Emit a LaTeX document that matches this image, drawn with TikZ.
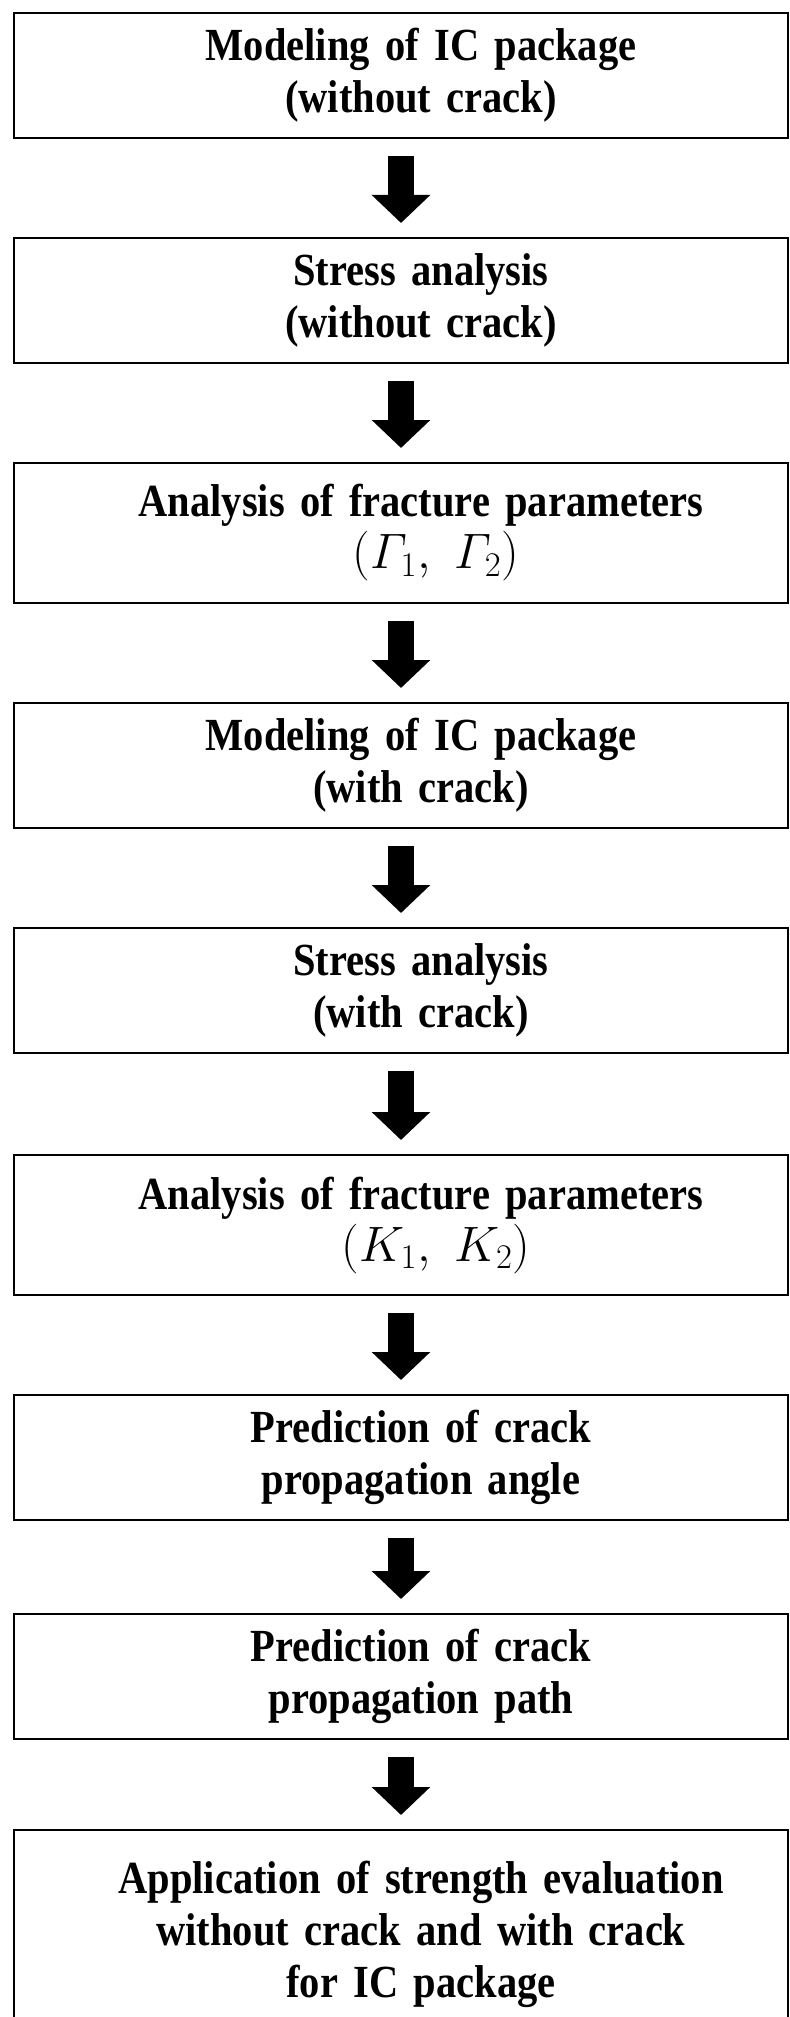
\documentclass[tikz,border=0pt]{standalone}
\usepackage{amsmath}
\usepackage[no-math]{fontspec}
\setmainfont{Liberation Serif}[FakeStretch=0.88,WordSpace=0.7]
\usetikzlibrary{positioning,arrows.meta}

\begin{document}
\begin{tikzpicture}[node distance=50pt, box/.style={draw,shape=rectangle,line width=1pt,inner sep=0pt,outer sep=0pt,text width=387pt,align=center,minimum height=62.5pt,font=\fontsize{23}{26}\selectfont\bfseries,execute at begin node={\leftskip=20pt plus 1fil\rightskip=0pt plus 1fil}}, flow/.style={line width=13pt,-{Triangle[width=28.5pt,length=14pt]},shorten <=9pt,shorten >=7.5pt}]
    \useasboundingbox (0,0) rectangle (394.5pt,-1008.5pt);
    \node[box] (1) at (200.5pt,-37.75pt) {Modeling of IC package\\(without crack)};
    \node[box] (2) [below=of 1] {Stress analysis\\(without crack)};
    \node[box,minimum height=70pt] (3) [below=of 2] {Analysis of fracture parameters\\\hspace*{15pt}$(\varGamma_1,\ \varGamma_2)$};
    \node[box] (4) [below=of 3] {Modeling of IC package\\(with crack)};
    \node[box] (5) [below=of 4] {Stress analysis\\(with crack)};
    \node[box,minimum height=70pt] (6) [below=51pt of 5] {Analysis of fracture parameters\\\hspace*{15pt}$(K_1,\ K_2)$};
    \node[box] (7) [below=of 6] {Prediction of crack\\propagation angle};
    \node[box] (8) [below=47pt of 7] {Prediction of crack\\propagation path};
    \node[box,minimum height=104pt] (9) [below=45.5pt of 8] {Application of strength evaluation\\without crack and with crack\\for IC package};

    \draw[flow] (1) -- (2);
    \draw[flow] (2) -- (3);
    \draw[flow] (3) -- (4);
    \draw[flow] (4) -- (5);
    \draw[flow] (5) -- (6);
    \draw[flow] (6) -- (7);
    \draw[flow] (7) -- (8);
    \draw[flow] (8) -- (9);
\end{tikzpicture}
\end{document}
